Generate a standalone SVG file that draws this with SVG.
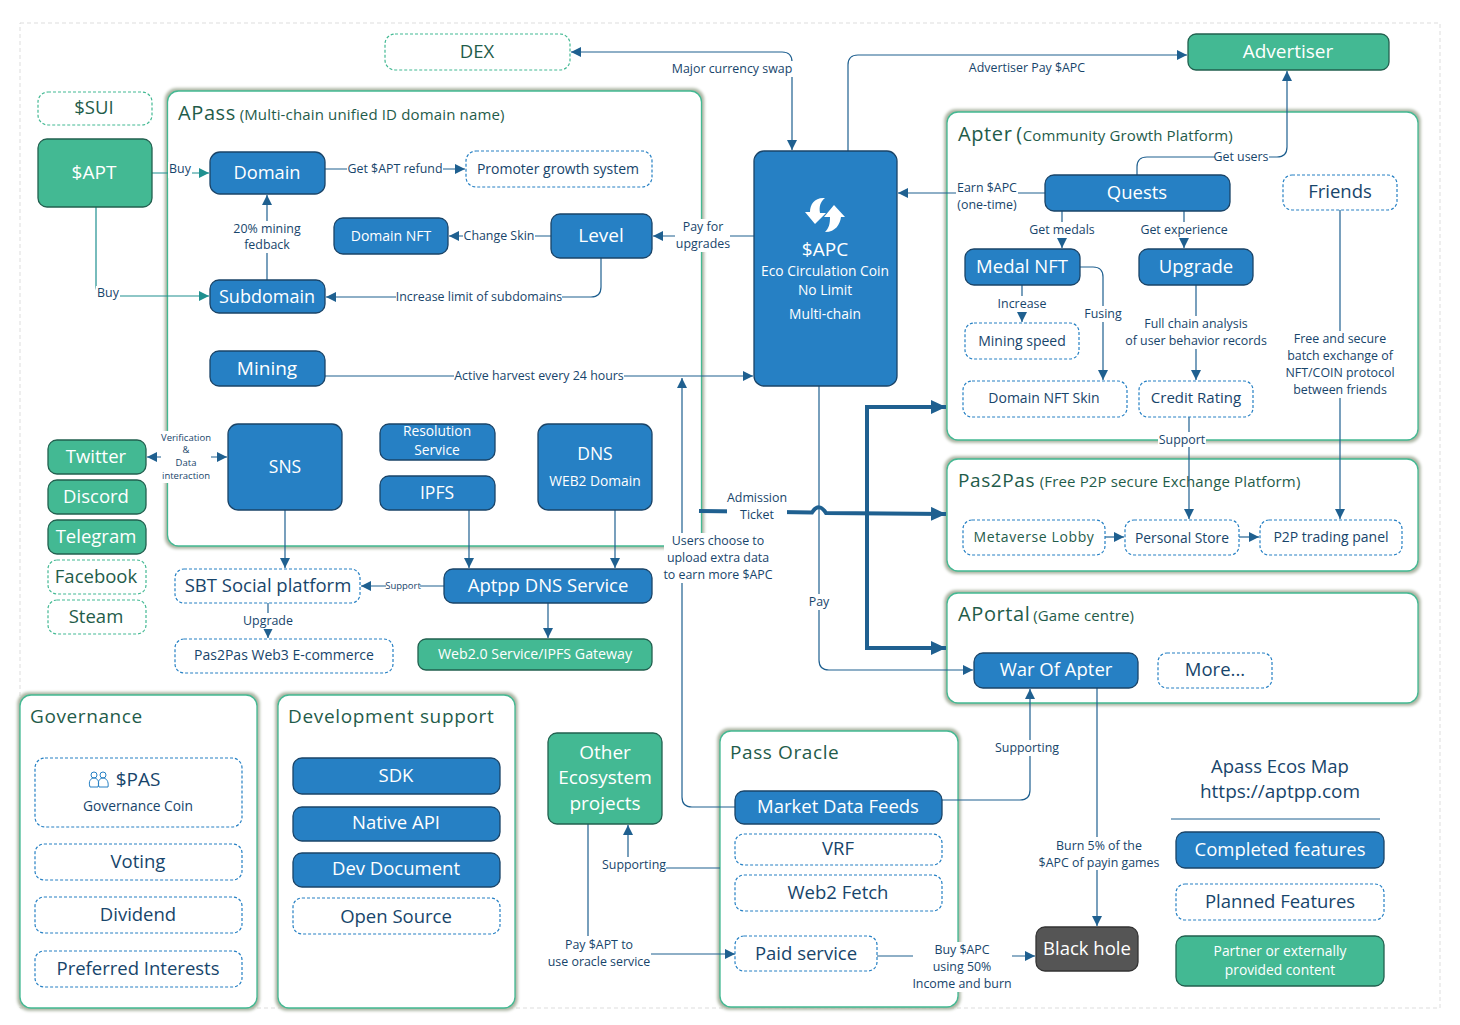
<svg xmlns="http://www.w3.org/2000/svg" width="1460" height="1025" viewBox="0 0 1460 1025">
<style>
text{font-family:"Open Sans","Noto Sans",sans-serif;text-anchor:middle;fill:#17456b}
.p{fill:#fff;stroke:#43b993;stroke-width:1.3;filter:url(#sh)}
.b rect,rect.b{fill:#2680c4;stroke:#1a4468;stroke-width:1.3}
.g rect,rect.g{fill:#43b993;stroke:#22604f;stroke-width:1.3}
.d rect{fill:#fff;stroke:#2680c4;stroke-width:1.2;stroke-dasharray:3 2}
.e rect{fill:#fff;stroke:#43b993;stroke-width:1.2;stroke-dasharray:3 2}
.b text,.g text{fill:#fff}
.e text,.t{fill:#1f5c4a}
.c path{fill:none;stroke:#1f6090;stroke-width:1.2}
.c path.a{marker-end:url(#ar)}
.c path.tl{stroke:#1f9090;marker-end:url(#at)}
.c path.th{stroke-width:4;stroke:#1f6090;marker-end:url(#ak)}
.lb rect{fill:#fff}
.lb text{font-size:12.4px}
.f19{font-size:19px}.f18{font-size:18.500px}.f17{font-size:17.500px}.f16{font-size:16px}.f15{font-size:15px}.f14{font-size:14px}.f13{font-size:13.800px}
.t{text-anchor:start;font-size:20px;letter-spacing:.6px}
.ts{font-size:15px;letter-spacing:.15px}
</style>
<defs>
<filter id="sh" x="-5%" y="-5%" width="110%" height="110%" color-interpolation-filters="sRGB"><feMorphology in="SourceAlpha" operator="dilate" radius="2"/><feGaussianBlur stdDeviation="1.5" result="bl"/><feFlood flood-color="#a9b3a0" flood-opacity="1"/><feComposite in2="bl" operator="in" result="s"/><feMerge><feMergeNode in="s"/><feMergeNode in="SourceGraphic"/></feMerge></filter>
<marker id="ar" markerUnits="userSpaceOnUse" markerWidth="11" markerHeight="11" refX="10" refY="5" orient="auto-start-reverse"><path d="M0,0L10,5L0,10Z" fill="#1f6090"/></marker>
<marker id="at" markerUnits="userSpaceOnUse" markerWidth="11" markerHeight="11" refX="10" refY="5" orient="auto"><path d="M0,0L10,5L0,10Z" fill="#1f9090"/></marker>
<marker id="ak" markerUnits="userSpaceOnUse" markerWidth="16" markerHeight="16" refX="15" refY="7" orient="auto"><path d="M0,0L15,7L0,14Z" fill="#1f6090"/></marker>
</defs>
<rect x="20" y="23" width="1420" height="985" fill="#fff" stroke="#ddd" stroke-width="1" stroke-dasharray="4 3"/>

<g id="panels">
<rect class="p" x="167.500" y="91" width="534" height="455" rx="11"/>
<rect class="p" x="947" y="112" width="471" height="328" rx="11"/>
<rect class="p" x="947" y="459" width="471" height="112" rx="11"/>
<rect class="p" x="947" y="593" width="471" height="110" rx="11"/>
<rect class="p" x="20" y="695" width="237" height="313" rx="11"/>
<rect class="p" x="278" y="695" width="237" height="313" rx="11"/>
<rect class="p" x="720" y="731" width="238" height="276" rx="11"/>
<text class="t" x="178" y="120">APass <tspan class="ts" dx="-2">(Multi-chain unified ID domain name)</tspan></text>
<text class="t" x="958" y="141">Apter <tspan dx="-2">(</tspan><tspan class="ts">Community Growth Platform)</tspan></text>
<text class="t" x="958" y="487" style="font-size:19px">Pas2Pas <tspan class="ts" dx="-1">(Free P2P secure Exchange Platform)</tspan></text>
<text class="t" x="958" y="621">APortal <tspan class="ts" dx="-3">(Game centre)</tspan></text>
<text class="t" x="30" y="723" style="font-size:19px">Governance</text>
<text class="t" x="288" y="723" style="font-size:19px;letter-spacing:.65px">Development support</text>
<text class="t" x="730" y="759" style="font-size:19px">Pass Oracle</text>
</g>

<g id="connectors" class="c">
<path d="M571,52H782Q792,52 792,62V150" class="a" marker-start="url(#ar)"/>
<path d="M848,151V65Q848,55 858,55H1187" class="a"/>
<path d="M1137,175V167Q1137,157 1147,157H1277Q1287,157 1287,147V71" class="a"/>
<path d="M152,173H209" class="tl"/>
<path d="M96,207V286Q96,296 106,296H209" class="tl"/>
<path d="M325,169H465" class="a"/>
<path d="M267,280V195" class="a"/>
<path d="M551,236H449" class="a"/>
<path d="M601,258V287Q601,297 591,297H326" class="a"/>
<path d="M754,236H653" class="a"/>
<path d="M325,376H753" class="a"/>
<path d="M735,807H692Q682,807 682,797V378" class="a"/>
<path d="M1045,193H898" class="a"/>
<path d="M819,386V660Q819,670 829,670H973" class="a"/>
<path d="M867,510V648H946" class="th"/>
<path d="M867,510V407H946" class="th"/>
<path d="M699,511L812,512.500Q819,502 826,513L946,514" class="th"/>
<path d="M1062,211V248" class="a"/>
<path d="M1184,211V248" class="a"/>
<path d="M1022,285V322" class="a"/>
<path d="M1080,267H1093Q1103,267 1103,277V380" class="a"/>
<path d="M1196,285V380" class="a"/>
<path d="M1189,417V519" class="a"/>
<path d="M1340,210V519" class="a"/>
<path d="M1105,537H1124" class="a"/>
<path d="M1239,537H1259" class="a"/>
<path d="M942,800H1020Q1030,800 1030,790V689" class="a"/>
<path d="M1097,688V926" class="a"/>
<path d="M285,510V568" class="a"/>
<path d="M147,457H227" class="a" marker-start="url(#ar)"/>
<path d="M469,510V568" class="a"/>
<path d="M615,510V568" class="a"/>
<path d="M444,586H361" class="a"/>
<path d="M548,603V638" class="a"/>
<path d="M268,603V638" class="a"/>
<path d="M720,868H638Q628,868 628,858V825" class="a"/>
<path d="M588,824V954H735" class="a"/>
<path d="M877,956H1035" class="a"/>
</g>

<g id="labels" class="lb">
<rect x="670" y="61" width="124" height="16"/><text x="732" y="73">Major currency swap</text>
<rect x="967" y="60" width="120" height="16"/><text x="1027" y="72">Advertiser Pay $APC</text>
<rect x="1215" y="150" width="54" height="14"/><text x="1241" y="161">Get users</text>
<rect x="168" y="162" width="24" height="16"/><text x="180" y="173">Buy</text>
<rect x="96" y="286" width="24" height="16"/><text x="108" y="297">Buy</text>
<rect x="347" y="161" width="96" height="16"/><text x="395" y="173">Get $APT refund</text>
<rect x="230" y="221" width="74" height="32"/><text x="267" y="233">20% mining</text><text x="267" y="249">fedback</text>
<rect x="463" y="228" width="72" height="16"/><text x="499" y="240">Change Skin</text>
<rect x="396" y="289" width="166" height="16"/><text x="479" y="301">Increase limit of subdomains</text>
<rect x="675" y="219" width="55" height="33"/><text x="703" y="231">Pay for</text><text x="703" y="248">upgrades</text>
<rect x="454" y="368" width="170" height="16"/><text x="539" y="380">Active harvest every 24 hours</text>
<rect x="956" y="180" width="62" height="33"/><text x="987" y="192">Earn $APC</text><text x="987" y="209">(one-time)</text>
<rect x="1029" y="222" width="66" height="16"/><text x="1062" y="234">Get medals</text>
<rect x="1141" y="222" width="87" height="16"/><text x="1184" y="234">Get experience</text>
<rect x="997" y="296" width="50" height="16"/><text x="1022" y="308">Increase</text>
<rect x="1085" y="306" width="37" height="16"/><text x="1103" y="318">Fusing</text>
<rect x="1125" y="316" width="141" height="33"/><text x="1196" y="328">Full chain analysis</text><text x="1196" y="345">of user behavior records</text>
<rect x="1158" y="432" width="48" height="15"/><text x="1182" y="444">Support</text>
<rect x="1284" y="331" width="111" height="67"/><text x="1340" y="343">Free and secure</text><text x="1340" y="360">batch exchange of</text><text x="1340" y="377">NFT/COIN protocol</text><text x="1340" y="394">between friends</text>
<rect x="727" y="490" width="60" height="33"/><text x="757" y="502">Admission</text><text x="757" y="519">Ticket</text>
<rect x="664" y="533" width="110" height="50"/><text x="718" y="545">Users choose to</text><text x="718" y="562">upload extra data</text><text x="718" y="579">to earn more $APC</text>
<rect x="808" y="594" width="24" height="16"/><text x="819" y="606">Pay</text>
<rect x="161" y="431" width="50" height="52"/><text x="186" y="441" style="font-size:9.500px">Verification</text><text x="186" y="453" style="font-size:9.500px">&amp;</text><text x="186" y="466" style="font-size:9.500px">Data</text><text x="186" y="479" style="font-size:9.500px">interaction</text>
<rect x="386" y="580" width="34" height="12"/><text x="403" y="589" style="font-size:9.500px">Support</text>
<rect x="243" y="613" width="50" height="16"/><text x="268" y="625">Upgrade</text>
<rect x="995" y="740" width="64" height="16"/><text x="1027" y="752">Supporting</text>
<rect x="1038" y="837" width="121" height="33"/><text x="1099" y="850">Burn 5% of the</text><text x="1099" y="867">$APC of payin games</text>
<rect x="602" y="857" width="64" height="16"/><text x="634" y="869">Supporting</text>
<rect x="547" y="936" width="104" height="33"/><text x="599" y="949">Pay $APT to</text><text x="599" y="966">use oracle service</text>
<rect x="913" y="942" width="99" height="50"/><text x="962" y="954">Buy $APC</text><text x="962" y="971">using  50%</text><text x="962" y="988">Income and burn</text>
</g>

<g id="n-dex" class="e"><rect x="385" y="34" width="185" height="36" rx="10"/><text class="f18" x="477" y="58">DEX</text></g>
<g id="n-advertiser" class="g"><rect x="1188" y="34" width="201" height="36" rx="8"/><text class="f19" x="1288" y="58">Advertiser</text></g>
<g id="n-sui" class="e"><rect x="38" y="92" width="114" height="33" rx="10"/><text class="f18" x="94" y="114">$SUI</text></g>
<g id="n-apt" class="g"><rect x="38" y="139" width="114" height="68" rx="9"/><text class="f19" x="94" y="179">$APT</text></g>
<g id="n-domain" class="b"><rect x="210" y="152" width="115" height="42" rx="10"/><text x="267" y="179" style="font-size:18.300px">Domain</text></g>
<g id="n-promoter" class="d"><rect x="466" y="151" width="186" height="36" rx="10"/><text class="f14" x="558" y="174">Promoter growth system</text></g>
<g id="n-domain-nft" class="b"><rect x="334" y="218" width="114" height="36" rx="9"/><text class="f14" x="391" y="241">Domain NFT</text></g>
<g id="n-level" class="b"><rect x="551" y="214" width="101" height="44" rx="9"/><text class="f19" x="601" y="242">Level</text></g>
<g id="n-subdomain" class="b"><rect x="210" y="280" width="115" height="33" rx="9"/><text x="267" y="303" style="font-size:18px">Subdomain</text></g>
<g id="n-mining" class="b"><rect x="210" y="351" width="115" height="35" rx="9"/><text class="f19" x="267" y="375">Mining</text></g>
<g id="n-apc" class="b"><rect x="754" y="151" width="143" height="235" rx="10"/>
<path d="M825,198 C815,197 810,204 810,212 L805,212 L815,224 L826,213 L820,213 C819,207 820,202 825,198Z M825,232 C836,232 840,224 841,217 L845,217 L834,205 L824,217 L830,217 C830,224 829,228 825,232Z" fill="#fff"/>
<text class="f19" x="825" y="256">$APC</text><text class="f13" x="825" y="276">Eco Circulation Coin</text><text class="f13" x="825" y="295">No Limit</text><text class="f13" x="825" y="319">Multi-chain</text></g>
<g id="n-quests" class="b"><rect x="1045" y="175" width="185" height="36" rx="9"/><text class="f18" x="1137" y="199">Quests</text></g>
<g id="n-friends" class="d"><rect x="1283" y="175" width="114" height="35" rx="9"/><text class="f18" x="1340" y="198">Friends</text></g>
<g id="n-medal" class="b"><rect x="965" y="249" width="115" height="36" rx="9"/><text class="f18" x="1022" y="273">Medal NFT</text></g>
<g id="n-upgrade" class="b"><rect x="1139" y="249" width="114" height="36" rx="9"/><text class="f18" x="1196" y="273">Upgrade</text></g>
<g id="n-miningspeed" class="d"><rect x="965" y="323" width="114" height="36" rx="9"/><text class="f14" x="1022" y="346">Mining speed</text></g>
<g id="n-skin" class="d"><rect x="963" y="381" width="164" height="36" rx="9"/><text class="f14" x="1044" y="403">Domain NFT Skin</text></g>
<g id="n-credit" class="d"><rect x="1139" y="381" width="114" height="36" rx="9"/><text class="f15" x="1196" y="403">Credit Rating</text></g>
<g id="n-lobby" class="d"><rect x="963" y="520" width="142" height="35" rx="9"/><text class="f14" x="1034" y="542" style="letter-spacing:.6px;fill:#1f5c4a">Metaverse Lobby</text></g>
<g id="n-store" class="d"><rect x="1125" y="520" width="114" height="35" rx="9"/><text class="f13" x="1182" y="543">Personal Store</text></g>
<g id="n-p2p" class="d"><rect x="1260" y="520" width="142" height="35" rx="9"/><text class="f14" x="1331" y="542">P2P trading panel</text></g>
<g id="n-war" class="b"><rect x="974" y="653" width="164" height="35" rx="9"/><text class="f18" x="1056" y="676">War Of Apter</text></g>
<g id="n-more" class="d"><rect x="1158" y="653" width="114" height="35" rx="9"/><text class="f18" x="1215" y="676">More...</text></g>
<g id="n-twitter" class="g"><rect x="48" y="440" width="98" height="34" rx="9"/><text class="f18" x="96" y="463">Twitter</text></g>
<g id="n-discord" class="g"><rect x="48" y="480" width="98" height="34" rx="9"/><text class="f18" x="96" y="503">Discord</text></g>
<g id="n-telegram" class="g"><rect x="48" y="520" width="98" height="34" rx="9"/><text class="f18" x="96" y="543">Telegram</text></g>
<g id="n-facebook" class="e"><rect x="48" y="560" width="98" height="34" rx="9"/><text class="f18" x="96" y="583">Facebook</text></g>
<g id="n-steam" class="e"><rect x="48" y="600" width="98" height="34" rx="9"/><text class="f18" x="96" y="623">Steam</text></g>
<g id="n-sns" class="b"><rect x="228" y="424" width="114" height="86" rx="10"/><text class="f17" x="285" y="473">SNS</text></g>
<g id="n-resolution" class="b"><rect x="380" y="424" width="115" height="36" rx="9"/><text class="f13" x="437" y="436">Resolution</text><text class="f13" x="437" y="455">Service</text></g>
<g id="n-ipfs" class="b"><rect x="380" y="476" width="115" height="34" rx="9"/><text class="f17" x="437" y="499">IPFS</text></g>
<g id="n-dns" class="b"><rect x="538" y="424" width="114" height="86" rx="10"/><text class="f17" x="595" y="460">DNS</text><text class="f13" x="595" y="486">WEB2 Domain</text></g>
<g id="n-sbt" class="d"><rect x="175" y="569" width="185" height="34" rx="9"/><text class="f18" x="268" y="592">SBT Social platform</text></g>
<g id="n-aptpp" class="b"><rect x="444" y="569" width="208" height="34" rx="9"/><text class="f18" x="548" y="592">Aptpp DNS Service</text></g>
<g id="n-pas2pas" class="d"><rect x="175" y="639" width="218" height="34" rx="9"/><text class="f14" x="284" y="660">Pas2Pas Web3 E-commerce</text></g>
<g id="n-web2" class="g"><rect x="418" y="639" width="234" height="31" rx="8"/><text x="535" y="659" style="font-size:14.200px">Web2.0 Service/IPFS Gateway</text></g>
<g id="n-pas" class="d"><rect x="35" y="758" width="207" height="69" rx="10"/>
<g fill="none" stroke="#2680c4" stroke-width="1"><circle cx="94" cy="775" r="3"/><circle cx="103" cy="775" r="3"/><path d="M90,787c-2,-6 1,-9 4,-9s6,3 4,9zM99,787c-2,-6 1,-9 4,-9s6,3 5,9z"/></g>
<text class="f19" x="138" y="786">$PAS</text><text class="f13" x="138" y="811">Governance Coin</text></g>
<g id="n-voting" class="d"><rect x="35" y="844" width="207" height="36" rx="9"/><text class="f18" x="138" y="868">Voting</text></g>
<g id="n-dividend" class="d"><rect x="35" y="897" width="207" height="36" rx="9"/><text class="f18" x="138" y="921">Dividend</text></g>
<g id="n-preferred" class="d"><rect x="35" y="951" width="207" height="36" rx="9"/><text class="f18" x="138" y="975">Preferred Interests</text></g>
<g id="n-sdk" class="b"><rect x="293" y="758" width="207" height="36" rx="9"/><text class="f18" x="396" y="782">SDK</text></g>
<g id="n-api" class="b"><rect x="293" y="807" width="207" height="34" rx="9"/><text class="f18" x="396" y="829">Native API</text></g>
<g id="n-devdoc" class="b"><rect x="293" y="853" width="207" height="34" rx="9"/><text class="f18" x="396" y="875">Dev Document</text></g>
<g id="n-opensource" class="d"><rect x="293" y="898" width="207" height="36" rx="9"/><text class="f18" x="396" y="923">Open Source</text></g>
<g id="n-other" class="g"><rect x="548" y="733" width="114" height="91" rx="9"/><text class="f19" x="605" y="759">Other</text><text class="f19" x="605" y="784">Ecosystem</text><text class="f19" x="605" y="810">projects</text></g>
<g id="n-market" class="b"><rect x="735" y="791" width="207" height="33" rx="9"/><text class="f18" x="838" y="813">Market Data Feeds</text></g>
<g id="n-vrf" class="d"><rect x="735" y="834" width="207" height="31" rx="9"/><text class="f18" x="838" y="855">VRF</text></g>
<g id="n-web2fetch" class="d"><rect x="735" y="875" width="207" height="36" rx="9"/><text class="f18" x="838" y="899">Web2 Fetch</text></g>
<g id="n-paid" class="d"><rect x="735" y="936" width="142" height="35" rx="9"/><text class="f18" x="806" y="960">Paid service</text></g>
<g id="n-blackhole"><rect x="1036" y="927" width="102" height="44" rx="9" fill="#555" stroke="#333" stroke-width="1.300"/><text class="f18" x="1087" y="955" style="fill:#fff">Black hole</text></g>
<g id="legend">
<text class="f18" x="1280" y="773">Apass Ecos Map</text><text x="1280" y="798" style="font-size:19px">https://aptpp.com</text>
<path d="M1171,819H1380" stroke="#1f6090" stroke-width="1"/>
<g class="b"><rect x="1176" y="832" width="208" height="36" rx="9"/><text class="f18" x="1280" y="856">Completed features</text></g>
<g class="d"><rect x="1176" y="884" width="208" height="36" rx="9"/><text class="f18" x="1280" y="908">Planned Features</text></g>
<g class="g"><rect x="1176" y="936" width="208" height="50" rx="9"/><text class="f13" x="1280" y="956">Partner or externally</text><text class="f13" x="1280" y="975">provided content</text></g>
</g>
</svg>
